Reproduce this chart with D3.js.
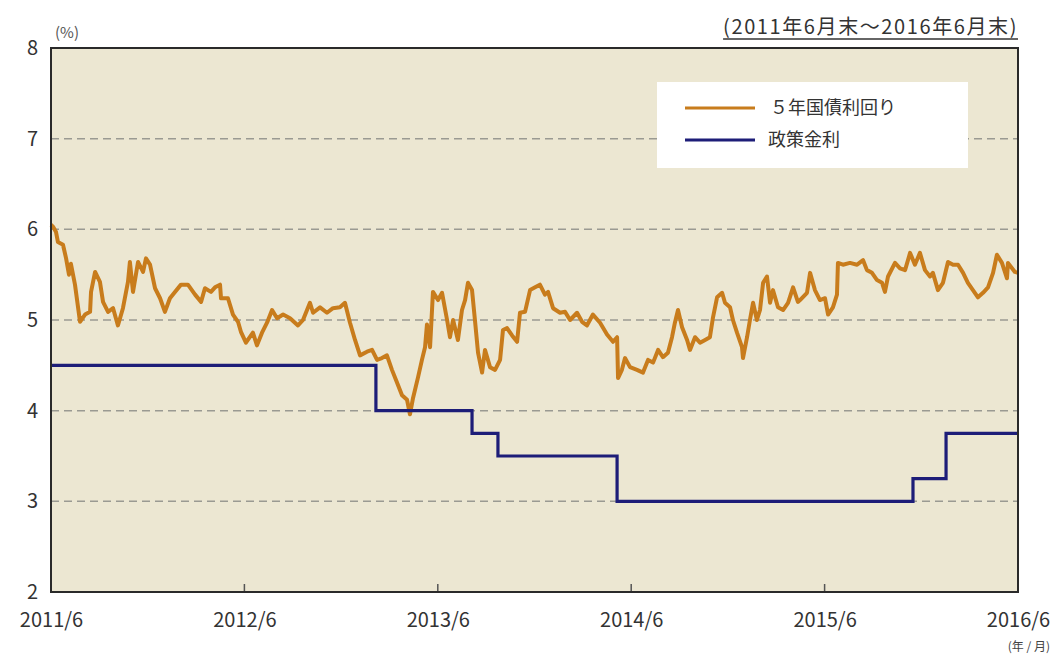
<!DOCTYPE html>
<html lang="ja">
<head>
<meta charset="UTF-8"/>
<title>5年国債利回りと政策金利</title>
<script src="https://d3js.org/d3.v7.min.js"></script>
<style>
	body{ margin:0; background:#fff; }
	text{ font-family:"Noto Sans CJK JP","Noto Sans",sans-serif; }
</style>
</head>
<body>
<script>
// 5年国債利回り (decimal year, %)
var yieldTime = [2011.500,2011.510,2011.526,2011.536,2011.562,2011.578,2011.593,2011.603,2011.624,2011.650,2011.676,
	2011.702,2011.707,2011.728,2011.753,2011.769,2011.795,2011.821,2011.846,2011.872,2011.898,2011.908,2011.924,
	2011.950,2011.976,2011.991,2012.012,2012.038,2012.064,2012.089,2012.115,2012.141,2012.172,2012.208,2012.245,
	2012.276,2012.296,2012.327,2012.348,2012.374,2012.379,2012.415,2012.441,2012.467,2012.482,2012.508,2012.544,
	2012.565,2012.591,2012.617,2012.643,2012.669,2012.700,2012.736,2012.777,2012.803,2012.839,2012.855,2012.891,
	2012.927,2012.958,2012.994,2013.020,2013.046,2013.072,2013.098,2013.134,2013.160,2013.186,2013.211,2013.237,
	2013.263,2013.289,2013.315,2013.341,2013.356,2013.372,2013.398,2013.418,2013.434,2013.444,2013.460,2013.475,
	2013.501,2013.522,2013.548,2013.563,2013.579,2013.604,2013.625,2013.641,2013.656,2013.677,2013.692,2013.708,
	2013.729,2013.744,2013.770,2013.796,2013.822,2013.837,2013.858,2013.884,2013.910,2013.925,2013.951,2013.977,
	2014.003,2014.028,2014.054,2014.070,2014.096,2014.132,2014.158,2014.184,2014.220,2014.246,2014.271,2014.302,
	2014.339,2014.375,2014.406,2014.427,2014.432,2014.452,2014.468,2014.494,2014.530,2014.561,2014.587,2014.613,
	2014.639,2014.664,2014.690,2014.711,2014.726,2014.742,2014.763,2014.789,2014.804,2014.830,2014.856,2014.882,
	2014.907,2014.923,2014.944,2014.970,2014.985,2015.011,2015.026,2015.047,2015.073,2015.078,2015.099,2015.114,
	2015.130,2015.150,2015.166,2015.182,2015.202,2015.218,2015.233,2015.259,2015.285,2015.311,2015.337,2015.362,
	2015.373,2015.409,2015.425,2015.450,2015.476,2015.502,2015.518,2015.543,2015.564,2015.569,2015.595,2015.631,
	2015.668,2015.699,2015.719,2015.745,2015.771,2015.797,2015.812,2015.828,2015.864,2015.890,2015.916,2015.942,
	2015.967,2015.993,2016.019,2016.045,2016.060,2016.086,2016.112,2016.138,2016.164,2016.190,2016.216,2016.241,
	2016.267,2016.293,2016.319,2016.345,2016.371,2016.391,2016.417,2016.443,2016.448,2016.484,2016.500];
var yieldValue = [6.05,6.03,5.97,5.86,5.83,5.68,5.50,5.62,5.39,4.98,5.06,
	5.09,5.31,5.53,5.42,5.20,5.09,5.13,4.94,5.13,5.42,5.64,5.31,
	5.64,5.53,5.68,5.61,5.35,5.24,5.09,5.24,5.31,5.39,5.39,5.28,
	5.20,5.35,5.31,5.36,5.39,5.24,5.24,5.06,4.98,4.87,4.75,4.86,
	4.72,4.86,4.97,5.11,5.02,5.06,5.02,4.94,5.00,5.19,5.08,5.14,
	5.08,5.13,5.14,5.19,4.97,4.78,4.61,4.65,4.67,4.56,4.58,4.61,
	4.45,4.31,4.17,4.12,3.96,4.14,4.37,4.56,4.70,4.95,4.70,5.31,
	5.22,5.30,5.00,4.81,5.00,4.78,5.11,5.22,5.41,5.33,5.00,4.64,
	4.42,4.67,4.48,4.45,4.56,4.89,4.91,4.83,4.76,5.08,5.09,5.33,
	5.36,5.39,5.28,5.31,5.13,5.08,5.09,5.00,5.08,4.98,4.94,5.06,
	4.97,4.84,4.76,4.81,4.36,4.45,4.58,4.48,4.45,4.42,4.56,4.53,
	4.67,4.59,4.64,4.81,4.97,5.11,4.92,4.78,4.67,4.81,4.75,4.78,
	4.81,5.03,5.25,5.30,5.19,5.14,5.00,4.86,4.70,4.58,4.81,5.00,
	5.19,5.00,5.11,5.41,5.48,5.19,5.33,5.14,5.11,5.19,5.36,5.20,
	5.22,5.30,5.52,5.33,5.22,5.24,5.06,5.14,5.28,5.63,5.61,5.63,
	5.61,5.66,5.55,5.52,5.44,5.41,5.31,5.48,5.63,5.57,5.55,5.74,
	5.61,5.74,5.55,5.48,5.52,5.33,5.41,5.64,5.61,5.61,5.52,5.41,
	5.33,5.25,5.30,5.36,5.52,5.72,5.63,5.46,5.63,5.53,5.52];

// 政策金利 (step changes)
var rateTime  = [2011.500,2013.180,2013.677,2013.811,2014.427,2015.957,2016.128,2016.500];
var rateValue = [4.50,4.00,3.75,3.50,3.00,3.25,3.75,3.75];

var xTicks = [2011.5,2012.5,2013.5,2014.5,2015.5,2016.5];
var xTickLabels = ["2011/6","2012/6","2013/6","2014/6","2015/6","2016/6"];
var yTicks = [2,3,4,5,6,7,8];
var gridValues = [3,4,5,6,7];
var seriesNames = ["５年国債利回り","政策金利"];
var seriesColors = ["#c87c1c","#1d1d78"];

var w = 1064, h = 655;
var pLeft = 51, pRight = 1018, pTop = 48, pBottom = 592;

var svg = d3.select("body").append("svg")
	.attr("width", w)
	.attr("height", h);

var x = d3.scaleLinear().domain([2011.5, 2016.5]).range([pLeft, pRight]);
var y = d3.scaleLinear().domain([2, 8]).range([pBottom, pTop]);

// plot background
svg.append("rect")
	.attr("x", pLeft).attr("y", pTop)
	.attr("width", pRight - pLeft).attr("height", pBottom - pTop)
	.attr("fill", "#ece7d2");

// grid
svg.selectAll("line.grid")
	.data(gridValues)
	.enter()
	.append("line")
	.attr("class", "grid")
	.attr("x1", pLeft).attr("x2", pRight)
	.attr("y1", function(d){ return y(d); })
	.attr("y2", function(d){ return y(d); })
	.attr("stroke", "#9a9a92")
	.attr("stroke-width", 1.5)
	.attr("stroke-dasharray", "8,5");

// x ticks (inward)
svg.selectAll("line.xtick")
	.data(xTicks.slice(1, -1))
	.enter()
	.append("line")
	.attr("class", "xtick")
	.attr("x1", function(d){ return x(d); })
	.attr("x2", function(d){ return x(d); })
	.attr("y1", pBottom).attr("y2", pBottom - 8)
	.attr("stroke", "#555")
	.attr("stroke-width", 1.5);

var tidy = function(g){ g.select(".domain").remove(); g.selectAll(".tick line").remove(); };

// y axis labels
svg.append("g")
	.attr("transform", "translate(" + pLeft + ",0)")
	.call(d3.axisLeft(y).tickValues(yTicks).tickFormat(d3.format("d")).tickSize(0).tickPadding(13))
	.call(tidy)
	.selectAll("text")
	.attr("font-size", 20)
	.attr("fill", "#333");

// x axis labels
svg.append("g")
	.attr("transform", "translate(0," + pBottom + ")")
	.call(d3.axisBottom(x).tickValues(xTicks).tickFormat(function(d, i){ return xTickLabels[i]; }).tickSize(0).tickPadding(21))
	.call(tidy)
	.selectAll("text")
	.attr("font-size", 20)
	.attr("fill", "#333");

// yield line
var yieldData = yieldTime.map(function(t, i){ return [t, yieldValue[i]]; });
svg.append("path")
	.datum(yieldData)
	.attr("d", d3.line().x(function(d){ return x(d[0]); }).y(function(d){ return y(d[1]); }))
	.attr("fill", "none")
	.attr("stroke", seriesColors[0])
	.attr("stroke-width", 4)
	.attr("stroke-linejoin", "round");

// policy rate
var rateData = rateTime.map(function(t, i){ return [t, rateValue[i]]; });
svg.append("path")
	.datum(rateData)
	.attr("d", d3.line().curve(d3.curveStepAfter).x(function(d){ return x(d[0]); }).y(function(d){ return y(d[1]); }))
	.attr("fill", "none")
	.attr("stroke", seriesColors[1])
	.attr("stroke-width", 3.2);

// frame
svg.append("rect")
	.attr("x", pLeft).attr("y", pTop)
	.attr("width", pRight - pLeft).attr("height", pBottom - pTop)
	.attr("fill", "none")
	.attr("stroke", "#2a2a2a")
	.attr("stroke-width", 2);

// legend
var legend = svg.append("g");
legend.append("rect")
	.attr("x", 657).attr("y", 82)
	.attr("width", 311).attr("height", 86)
	.attr("fill", "#fff");
seriesNames.forEach(function(name, i){
	var ly = 108 + i * 32;
	legend.append("line")
		.attr("x1", 685).attr("x2", 755)
		.attr("y1", ly).attr("y2", ly)
		.attr("stroke", seriesColors[i])
		.attr("stroke-width", 3);
	legend.append("text")
		.attr("x", i == 0 ? 770 : 768).attr("y", ly)
		.attr("dy", "0.35em")
		.attr("font-size", 18)
		.attr("fill", "#333")
		.text(name);
});

// unit labels
svg.append("text")
	.attr("x", 55).attr("y", 38)
	.attr("font-size", 15)
	.attr("fill", "#555")
	.text("(%)");

var period = svg.append("text")
	.attr("x", 1018).attr("y", 34)
	.attr("text-anchor", "end")
	.attr("font-size", 20)
	.attr("letter-spacing", 1.6)
	.attr("fill", "#333")
	.text("(2011年6月末～2016年6月末)");
var pb = period.node().getBBox();
svg.append("line")
	.attr("x1", pb.x).attr("x2", pb.x + pb.width)
	.attr("y1", 39).attr("y2", 39)
	.attr("stroke", "#333")
	.attr("stroke-width", 1.3);

svg.append("text")
	.attr("x", 1050).attr("y", 651)
	.attr("text-anchor", "end")
	.attr("font-size", 12)
	.attr("fill", "#444")
	.text("(年 / 月)");
</script>
</body>
</html>
